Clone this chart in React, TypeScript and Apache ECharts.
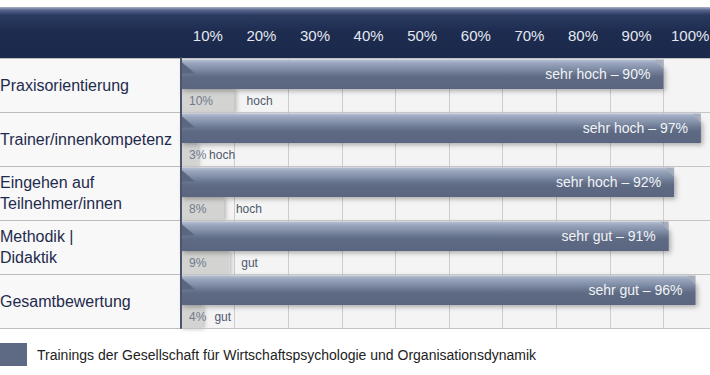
import React, { useEffect, useRef } from "react";
import * as echarts from "echarts";

const categories = [
  "Praxisorientierung",
  "Trainer/innenkompetenz",
  "Eingehen auf\nTeilnehmer/innen",
  "Methodik |\nDidaktik",
  "Gesamtbewertung",
];
const topValues = [90, 97, 92, 91, 96];
const topLabels = ["sehr hoch", "sehr hoch", "sehr hoch", "sehr gut", "sehr gut"];
const lowValues = [10, 3, 8, 9, 4];
const lowLabels = ["hoch", "hoch", "hoch", "gut", "gut"];
const tickLabels = ["10%", "20%", "30%", "40%", "50%", "60%", "70%", "80%", "90%", "100%"];
const seriesName = "Trainings der Gesellschaft für Wirtschaftspsychologie und Organisationsdynamik";

const FONT = "'Liberation Sans', Arial, sans-serif";

export default function App() {
  const ref = useRef<HTMLDivElement>(null);

  useEffect(() => {
    if (!ref.current) return;
    const chart = echarts.init(ref.current, null, { renderer: "svg" });

    const data = categories.map((_, i) => [i, topValues[i], lowValues[i]]);

    const renderItem = (params: any, api: any) => {
      const i = api.value(0);
      const v = api.value(1);
      const low = api.value(2);
      const start = api.coord([0, i]);
      const end = api.coord([v, i]);
      const lowEnd = api.coord([low, i]);
      const band = api.size([0, 1])[1];
      const top = start[1] - band / 2;
      const x0 = start[0];
      const x1 = end[0];
      const y0 = top + 1.5;
      const h = 29.5;
      const ly0 = top + 31;
      const lh = band - 31;
      const pct = low + "%";
      const pctW = pct.length * 8.5;
      const qx = Math.max(lowEnd[0] + 12, x0 + 8 + pctW + 3);
      return {
        type: "group",
        children: [
          {
            type: "rect",
            shape: { x: x0, y: ly0, width: lowEnd[0] - x0, height: lh },
            style: {
              fill: "#d3d3d1",
              shadowBlur: 4,
              shadowOffsetX: 2,
              shadowOffsetY: 1,
              shadowColor: "rgba(0,0,0,0.25)",
            },
          },
          {
            type: "text",
            style: {
              x: x0 + 8,
              y: ly0 + lh / 2,
              text: pct,
              fill: "#707a8e",
              font: "12px " + FONT,
              align: "left",
              verticalAlign: "middle",
            },
          },
          {
            type: "text",
            style: {
              x: qx,
              y: ly0 + lh / 2,
              text: lowLabels[i],
              fill: "#4f586c",
              font: "12px " + FONT,
              align: "left",
              verticalAlign: "middle",
            },
          },
          {
            type: "polygon",
            shape: {
              points: [
                [x0, y0],
                [x1 - 9, y0],
                [x1, y0 + 9],
                [x1, y0 + h],
                [x0, y0 + h],
              ],
            },
            style: {
              fill: new echarts.graphic.LinearGradient(0, 0, 0, 1, [
                { offset: 0, color: "#b7c1d5" },
                { offset: 0.12, color: "#9aa6bd" },
                { offset: 0.3, color: "#8290a8" },
                { offset: 0.5, color: "#68748d" },
                { offset: 0.6, color: "#5e6a83" },
                { offset: 1, color: "#5a6680" },
              ]),
              shadowBlur: 5,
              shadowOffsetX: 2,
              shadowOffsetY: 2,
              shadowColor: "rgba(0,0,0,0.3)",
            },
          },
          {
            type: "polygon",
            shape: {
              points: [
                [x0, y0 + 2],
                [x0 + 14, y0 + 14],
                [x0, y0 + 14],
              ],
            },
            style: { fill: "#5b6780" },
          },
          {
            type: "polygon",
            shape: {
              points: [
                [x1 - 9, y0],
                [x1, y0],
                [x1, y0 + 9],
              ],
            },
            style: { fill: "#8a96ad", opacity: 0.7 },
          },
          {
            type: "text",
            style: {
              x: x1 - 13,
              y: y0 + h / 2,
              text: topLabels[i] + " – " + v + "%",
              fill: "#f1f3f7",
              font: "14px " + FONT,
              align: "right",
              verticalAlign: "middle",
            },
          },
        ],
      };
    };

    chart.setOption({
      animation: false,
      graphic: [
        {
          type: "rect",
          shape: { x: 0, y: 7, width: 710, height: 51 },
          z: 0,
          style: {
            fill: new echarts.graphic.LinearGradient(0, 0, 0, 1, [
              { offset: 0, color: "#aab3c6" },
              { offset: 0.06, color: "#56668b" },
              { offset: 0.16, color: "#2a3a60" },
              { offset: 0.5, color: "#1d2b4f" },
              { offset: 1, color: "#1b294c" },
            ]),
          },
        },
      ],
      grid: [
        {
          left: 181,
          top: 58,
          width: 536,
          height: 270,
          show: true,
          backgroundColor: "#f4f4f4",
          borderWidth: 0,
          outerBoundsMode: "none",
          containLabel: false,
        },
        {
          left: 0,
          top: 58,
          width: 181,
          height: 270,
          show: true,
          backgroundColor: "#f8f8f8",
          borderWidth: 0,
          outerBoundsMode: "none",
          containLabel: false,
        },
      ],
      xAxis: [
        {
          type: "value",
          gridIndex: 0,
          min: 0,
          max: 100,
          interval: 10,
          axisLabel: { show: false },
          axisLine: { show: false },
          axisTick: { show: false },
          splitLine: { show: true, lineStyle: { color: "#cdcdcd", width: 1 } },
        },
        {
          type: "category",
          gridIndex: 0,
          position: "top",
          data: tickLabels,
          boundaryGap: true,
          z: 5,
          axisLine: { show: false },
          axisTick: { show: false },
          splitLine: { show: false },
          axisLabel: {
            interval: 0,
            margin: 23,
            verticalAlign: "middle",
            color: "#e4e8f0",
            fontSize: 15,
            fontFamily: FONT,
          },
        },
        {
          type: "value",
          gridIndex: 1,
          min: 0,
          max: 1,
          axisLabel: { show: false },
          axisLine: { show: false },
          axisTick: { show: false },
          splitLine: { show: false },
        },
      ],
      yAxis: [
        {
          type: "category",
          gridIndex: 0,
          inverse: true,
          data: categories,
          z: 5,
          axisLine: { show: true, lineStyle: { color: "#4c556b", width: 2 } },
          axisTick: { show: false },
          splitLine: { show: true, lineStyle: { color: "#c4c4c4", width: 1 } },
          axisLabel: {
            interval: 0,
            align: "left",
            margin: 181,
            color: "#1f2b4d",
            fontSize: 16,
            lineHeight: 21,
            fontFamily: FONT,
          },
        },
        {
          type: "category",
          gridIndex: 1,
          inverse: true,
          data: categories,
          axisLabel: { show: false },
          axisLine: { show: false },
          axisTick: { show: false },
          splitLine: { show: true, lineStyle: { color: "#bdbdbd", width: 1 } },
        },
      ],
      legend: {
        data: [seriesName],
        left: 0,
        top: 343,
        padding: 0,
        icon: "rect",
        itemWidth: 27,
        itemHeight: 23,
        textStyle: {
          fontSize: 14,
          color: "#222222",
          fontFamily: FONT,
          padding: [0, 0, 0, 5],
        },
      },
      series: [
        {
          type: "custom",
          name: seriesName,
          xAxisIndex: 0,
          yAxisIndex: 0,
          encode: { x: 1, y: 0 },
          itemStyle: { color: "#5e6a83" },
          renderItem,
          data,
          clip: false,
          z: 3,
        },
      ],
    });

    return () => chart.dispose();
  }, []);

  return (
    <div
      ref={ref}
      style={{ position: "absolute", left: 0, top: 0, width: 710, height: 375 }}
    />
  );
}
